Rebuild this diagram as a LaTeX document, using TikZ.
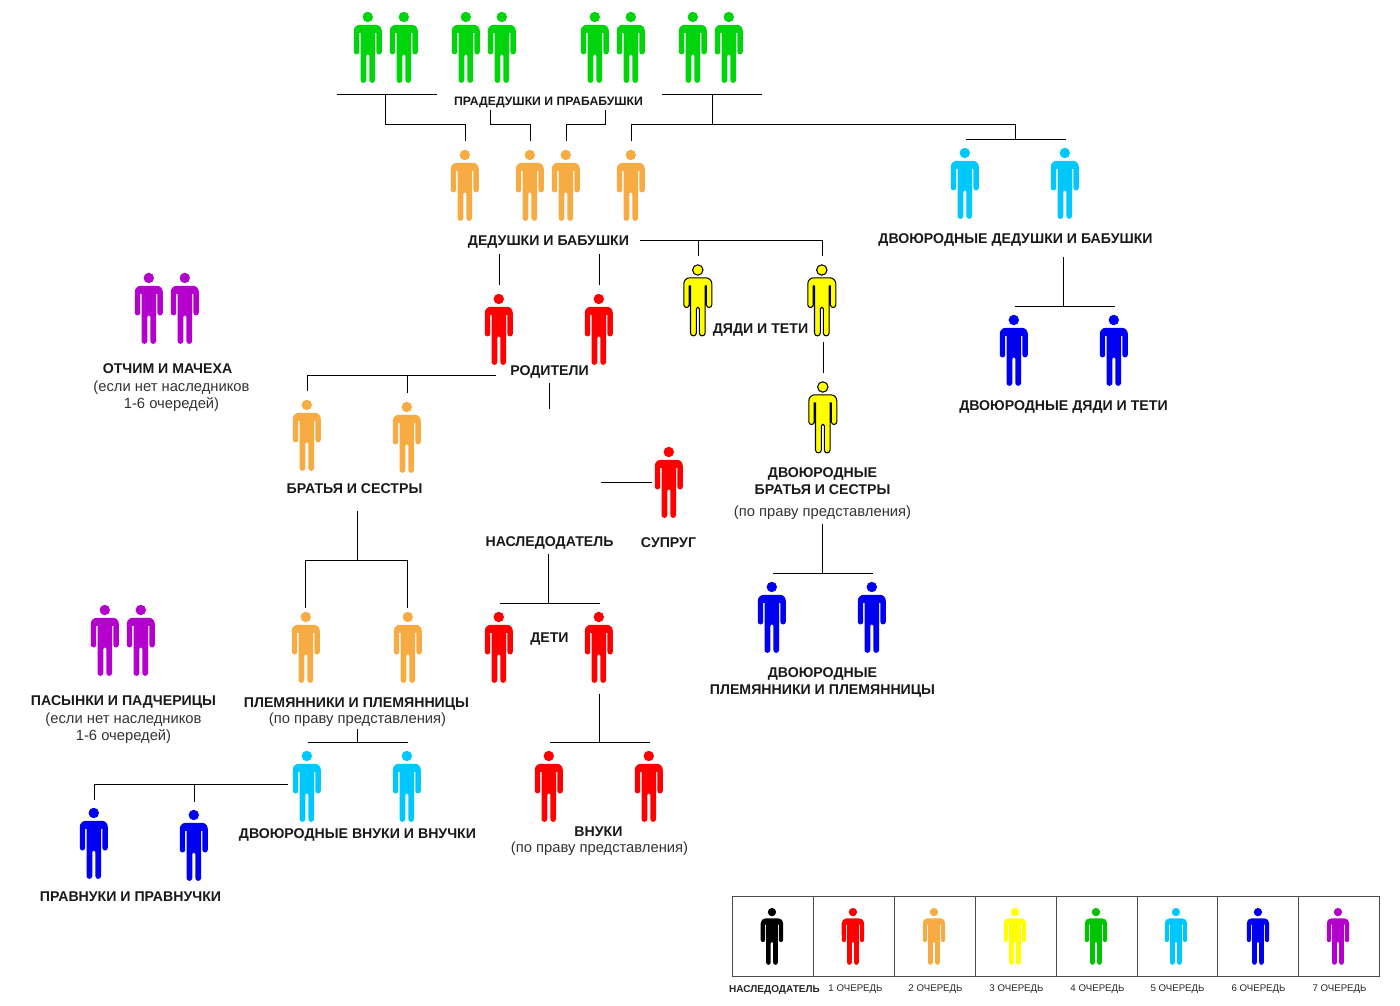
\documentclass[tikz,border=0pt]{standalone}
\usepackage{fontspec}
\setmainfont{Liberation Sans}
\usepackage{tikz}
\usetikzlibrary{arrows.meta,positioning}
\usepackage{xcolor}
\definecolor{heir}{HTML}{000000}
\definecolor{first}{HTML}{FF0000}
\definecolor{second}{HTML}{F6AB43}
\definecolor{third}{HTML}{FFFF00}
\definecolor{fourth}{HTML}{00D40A}
\definecolor{fourthleg}{HTML}{00C400}
\definecolor{fifth}{HTML}{00C8FF}
\definecolor{sixth}{HTML}{0000F0}
\definecolor{seventh}{HTML}{B400CC}
\tikzset{
  person/.pic={
    \path[pic actions, shift={(-.7,-.7)}] (0,5.2) circle[radius=5.2];
    \path[pic actions, shift={(-.7,-.7)}] (-8,13) -- (8,13) arc[start angle=-90,end angle=0,radius=6]
      -- (14,40) arc[start angle=0,end angle=180,radius=2.7] -- (8.6,21) -- (7.3,21)
      -- (7.3,68.2) arc[start angle=0,end angle=180,radius=2.9] -- (1.5,44)
      arc[start angle=0,end angle=-180,radius=1.5] -- (-1.5,68.2)
      arc[start angle=0,end angle=180,radius=2.9] -- (-7.3,21) -- (-8.6,21) -- (-8.6,40)
      arc[start angle=0,end angle=180,radius=2.7] -- (-14,19)
      arc[start angle=180,end angle=270,radius=6] -- cycle;
    \coordinate (-stub) at (0,-9);
  },
  q0/.style={fill=heir},
  q1/.style={fill=first},
  q2/.style={fill=second},
  q3/.style={fill=third},
  q3line/.style={fill=third, draw=black, line width=.6pt},
  q4/.style={fill=fourth},
  q4leg/.style={fill=fourthleg},
  q5/.style={fill=fifth},
  q6/.style={fill=sixth},
  q7/.style={fill=seventh},
  link/.style={draw=black, line width=.6pt},
  lbl/.style={font=\bfseries\fontsize{8.05}{9.66}\selectfont, align=center, inner sep=0pt, text=black!90, yshift=-.6pt},
  note/.style={font=\fontsize{8.4}{9.66}\selectfont, align=center, inner sep=0pt, text=black!80, yshift=-.6pt},
  legcell/.style={draw=black!70, line width=.5pt, minimum width=81*0.02cm, minimum height=80*0.02cm, inner sep=0pt},
  legtext/.style={font=\fontsize{5.5}{7}\selectfont, inner sep=0pt, text=black!85},
}
\begin{document}
\begin{tikzpicture}[x=0.02cm, y=-0.02cm]
  \useasboundingbox (-.5,-.5) rectangle (1399.5,1005.5);

  % people
  \pic[q4] (gg1) at (368,12) {person};
  \pic[q4] (gg2) at (404,12) {person};
  \pic[q4] (gg3) at (466,12) {person};
  \pic[q4] (gg4) at (502,12) {person};
  \pic[q4] (gg5) at (595,12) {person};
  \pic[q4] (gg6) at (631,12) {person};
  \pic[q4] (gg7) at (693,12) {person};
  \pic[q4] (gg8) at (729,12) {person};
  \pic[q2] (gp1) at (465,150) {person};
  \pic[q2] (gp2) at (530,150) {person};
  \pic[q2] (gp3) at (566,150) {person};
  \pic[q2] (gp4) at (631,150) {person};
  \pic[q5] (cg1) at (965,148) {person};
  \pic[q5] (cg2) at (1065,148) {person};
  \pic[q3line] (un1) at (698,265) {person};
  \pic[q3line] (un2) at (822,265) {person};
  \pic[q3line] (cs1) at (823,382) {person};
  \pic[q1] (pa1) at (499,294) {person};
  \pic[q1] (pa2) at (599,294) {person};
  \pic[q7] (sp1) at (149,273) {person};
  \pic[q7] (sp2) at (185,273) {person};
  \pic[q2] (br1) at (307,400) {person};
  \pic[q2] (br2) at (407,402) {person};
  \pic[q1] (wife) at (669,447) {person};
  \pic[q6] (cu1) at (1014,315) {person};
  \pic[q6] (cu2) at (1114,315) {person};
  \pic[q6] (cn1) at (772,582) {person};
  \pic[q6] (cn2) at (872,582) {person};
  \pic[q1] (ch1) at (499,612) {person};
  \pic[q1] (ch2) at (599,612) {person};
  \pic[q2] (ne1) at (306,612) {person};
  \pic[q2] (ne2) at (408,612) {person};
  \pic[q7] (st1) at (105,605) {person};
  \pic[q7] (st2) at (141,605) {person};
  \pic[q5] (gn1) at (307,751) {person};
  \pic[q5] (gn2) at (407,751) {person};
  \pic[q1] (gc1) at (549,751) {person};
  \pic[q1] (gc2) at (649,751) {person};
  \pic[q6] (pg1) at (94,808) {person};
  \pic[q6] (pg2) at (194,810) {person};

  % labels
  \node[lbl, font=\bfseries\fontsize{6.95}{9}\selectfont] (ggtext) at (548,101) {ПРАДЕДУШКИ И ПРАБАБУШКИ};
  \node[lbl] (gptext) at (548,240) {ДЕДУШКИ И БАБУШКИ};
  \node[lbl] (cgtext) at (1015,238) {ДВОЮРОДНЫЕ ДЕДУШКИ И БАБУШКИ};
  \node[lbl] (sptext) at (167,367) {ОТЧИМ И МАЧЕХА};
  \node[note] (spnote) at (171,394.5) {(если нет наследников\\1-6 очередей)};
  \node[lbl] (patext) at (549,370) {РОДИТЕЛИ};
  \node[lbl] (untext) at (760,328) {ДЯДИ И ТЕТИ};
  \node[lbl] (cutext) at (1063,405) {ДВОЮРОДНЫЕ ДЯДИ И ТЕТИ};
  \node[lbl] (brtext) at (354,487) {БРАТЬЯ И СЕСТРЫ};
  \node[lbl] (cstext) at (822,479.5) {ДВОЮРОДНЫЕ\\БРАТЬЯ И СЕСТРЫ};
  \node[note] (csnote) at (822,511) {(по праву представления)};
  \node[lbl] (hrtext) at (549,541) {НАСЛЕДОДАТЕЛЬ};
  \node[lbl] (wftext) at (668,541) {СУПРУГ};
  \node[lbl] (chtext) at (549,637) {ДЕТИ};
  \node[lbl] (sttext) at (123,700) {ПАСЫНКИ И ПАДЧЕРИЦЫ};
  \node[note] (stnote) at (123,726.5) {(если нет наследников\\1-6 очередей)};
  \node[lbl] (netext) at (356,702) {ПЛЕМЯННИКИ И ПЛЕМЯННИЦЫ};
  \node[note] (nenote) at (357,718) {(по праву представления)};
  \node[lbl] (cntext) at (822,680.5) {ДВОЮРОДНЫЕ\\ПЛЕМЯННИКИ И ПЛЕМЯННИЦЫ};
  \node[lbl] (gntext) at (357,833) {ДВОЮРОДНЫЕ ВНУКИ И ВНУЧКИ};
  \node[lbl] (pgtext) at (130,895) {ПРАВНУКИ И ПРАВНУЧКИ};
  \node[lbl] (gctext) at (598,830) {ВНУКИ};
  \node[note] (gcnote) at (599,847) {(по праву представления)};

  % free ends of the lines
  \coordinate (barAl) at (336,94);
  \coordinate (barAm) at (385,94);
  \coordinate (barAr) at (436,94);
  \coordinate (barBl) at (661,94);
  \coordinate (barBm) at (712,94);
  \coordinate (barBr) at (761,94);
  \coordinate (ggL) at (490,110);
  \coordinate (ggR) at (605,110);
  \coordinate (bus) at (0,124);
  \coordinate (cgTop) at (1015,124);
  \coordinate (gpRight) at (639,240);
  \coordinate (gpLeft) at (499,254);
  \coordinate (gpMid) at (599,254);
  \coordinate (cgDown) at (1063,257);
  \coordinate (unDown) at (823,342);
  \coordinate (paLeft) at (495,375);
  \coordinate (paDown) at (549,383);
  \coordinate (paEnd) at (549,409);
  \coordinate (hrRight) at (600,482);
  \coordinate (wfLeft) at (651,482);
  \coordinate (brDown) at (357,511);
  \coordinate (brBus) at (357,560);
  \coordinate (neL) at (305,607);
  \coordinate (neR) at (407,607);
  \coordinate (csDown) at (822,524);
  \coordinate (hrDown) at (548,554);
  \coordinate (chDown) at (599,693);
  \coordinate (neDown) at (357,728);
  \coordinate (gnLeft) at (287,784);

  % lines
  \draw[link] (barAl) -- (barAr);
  \draw[link] (barAm) -- (barAm |- bus) -| (gp1-stub);
  \draw[link] (ggL) -- (ggL |- bus) -| (gp2-stub);
  \draw[link] (ggR) -- (ggR |- bus) -| (gp3-stub);
  \draw[link] (barBl) -- (barBr);
  \draw[link] (barBm) -- (barBm |- bus);
  \draw[link] (gp4-stub) |- (cgTop) -- (cgTop |- cg1-stub);
  \draw[link] (cg1-stub) -- (cg2-stub);
  \draw[link] (gpRight) -| (un2-stub);
  \draw[link] (un1-stub) -- (un1-stub |- gpRight);
  \draw[link] (gpLeft) -- (pa1-stub);
  \draw[link] (gpMid) -- (pa2-stub);
  \draw[link] (cgDown) -- (cgDown |- cu1-stub);
  \draw[link] (cu1-stub) -- (cu2-stub);
  \draw[link] (unDown) -- (cs1-stub);
  \draw[link] (paLeft) -| (br1-stub);
  \draw[link] (br2-stub) -- (br2-stub |- paLeft);
  \draw[link] (paDown) -- (paEnd);
  \draw[link] (hrRight) -- (wfLeft);
  \draw[link] (brDown) -- (brBus);
  \draw[link] (neL) |- (brBus) -| (neR);
  \draw[link] (csDown) -- (csDown |- cn1-stub);
  \draw[link] (cn1-stub) -- (cn2-stub);
  \draw[link] (hrDown) -- (hrDown |- ch1-stub);
  \draw[link] (ch1-stub) -- (ch2-stub);
  \draw[link] (chDown) -- (chDown |- gc1-stub);
  \draw[link] (gc1-stub) -- (gc2-stub);
  \draw[link] (neDown) -- (neDown |- gn1-stub);
  \draw[link] (gn1-stub) -- (gn2-stub);
  \draw[link] (gnLeft) -| (pg1-stub);
  \draw[link] (pg2-stub) -- (pg2-stub |- gnLeft);

  % legend
  \node[legcell] (leg0) at (772.5,936) {};
  \node[legcell] (leg1) at (853.5,936) {};
  \node[legcell] (leg2) at (934.5,936) {};
  \node[legcell] (leg3) at (1015.5,936) {};
  \node[legcell] (leg4) at (1096.5,936) {};
  \node[legcell, minimum width=80*0.02cm] (leg5) at (1177,936) {};
  \node[legcell] (leg6) at (1257.5,936) {};
  \node[legcell] (leg7) at (1338.5,936) {};
  \pic[q0, scale=.8] at (772,908) {person};
  \pic[q1, scale=.8] at (853,908) {person};
  \pic[q2, scale=.8] at (934,908) {person};
  \pic[q3, scale=.8] at (1015,908) {person};
  \pic[q4leg, scale=.8] at (1096,908) {person};
  \pic[q5, scale=.8] at (1176,908) {person};
  \pic[q6, scale=.8] at (1258,908) {person};
  \pic[q7, scale=.8] at (1338,908) {person};
  \node[legtext, font=\bfseries\fontsize{5.7}{7}\selectfont] (lt0) at (774,989) {НАСЛЕДОДАТЕЛЬ};
  \node[legtext] (lt1) at (855,989) {1 ОЧЕРЕДЬ};
  \node[legtext] (lt2) at (935,989) {2 ОЧЕРЕДЬ};
  \node[legtext] (lt3) at (1016,989) {3 ОЧЕРЕДЬ};
  \node[legtext] (lt4) at (1097,989) {4 ОЧЕРЕДЬ};
  \node[legtext] (lt5) at (1177,989) {5 ОЧЕРЕДЬ};
  \node[legtext] (lt6) at (1258,989) {6 ОЧЕРЕДЬ};
  \node[legtext] (lt7) at (1339,989) {7 ОЧЕРЕДЬ};
\end{tikzpicture}
\end{document}
